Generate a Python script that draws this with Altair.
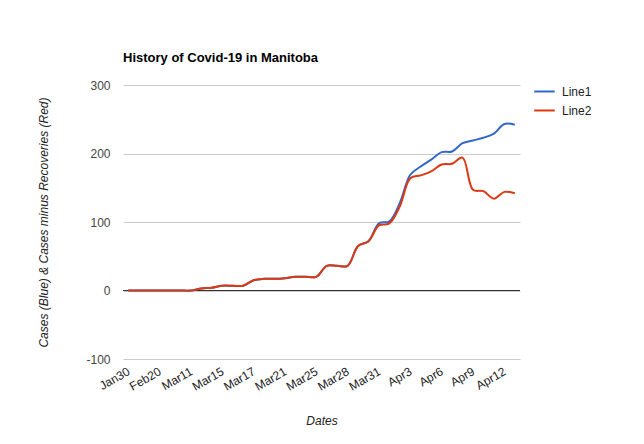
import json
import altair as alt
import pandas as pd

# x positions are point indices; tick labels every 3rd point
tick_labels = ["Jan30", "Feb20", "Mar11", "Mar15", "Mar17", "Mar21", "Mar25",
               "Mar28", "Mar31", "Apr3", "Apr6", "Apr9", "Apr12"]

line1 = [0, 0, 0, 0, 0, 0, 0, 3, 4, 7, 7, 7, 15, 17, 17, 18, 20, 20, 20,
         36, 36, 36, 65, 72, 98, 101, 128, 169, 181, 191, 202, 203, 215,
         219, 223, 229, 243, 242]
line2 = [0, 0, 0, 0, 0, 0, 0, 3, 4, 7, 7, 7, 15, 17, 17, 18, 20, 20, 20,
         36, 36, 36, 65, 72, 95, 98, 123, 164, 168, 174, 184, 185, 194,
         147, 145, 134, 144, 142]

rows = []
for i, v in enumerate(line1):
    rows.append({"idx": i, "value": v, "series": "Line1"})
for i, v in enumerate(line2):
    rows.append({"idx": i, "value": v, "series": "Line2"})
df = pd.DataFrame(rows)

FONT = "Liberation Sans"
W, H = 397, 274
n = len(line1)

label_expr = json.dumps(tick_labels) + "[round(datum.value/3)]"

x_enc = alt.X(
    "idx:Q",
    scale=alt.Scale(domain=[-0.5, n - 0.5], nice=False, zero=False),
    axis=alt.Axis(
        values=list(range(0, 37, 3)),
        labelExpr=label_expr,
        labelAngle=330,
        labelAlign="right",
        labelBaseline="middle",
        labelPadding=11,
        labelFont=FONT,
        labelFontSize=12,
        labelColor="#222",
        labelOverlap=False,
        ticks=False,
        domain=False,
        grid=False,
        title="Dates",
        titleFont=FONT,
        titleFontSize=12,
        titleFontStyle="italic",
        titleFontWeight="normal",
        titleColor="#222",
        titleY=61,
        titleBaseline="middle",
    ),
)

y_enc = alt.Y(
    "value:Q",
    scale=alt.Scale(domain=[-100, 300], nice=False, zero=False),
    axis=alt.Axis(
        values=[-100, -50, 0, 50, 100, 150, 200, 250, 300],
        labelExpr="datum.value % 100 === 0 ? replace(datum.label, '\u2212', '-') : ''",
        labelFont=FONT,
        labelFontSize=12,
        labelColor="#444",
        labelPadding=13,
        ticks=False,
        domain=False,
        grid=True,
        gridColor={"condition": {"test": "datum.value % 100 === 0", "value": "#cccccc"},
                   "value": "#ebebeb"},
        gridWidth=1,
        title="Cases (Blue) & Cases minus Recoveries (Red)",
        titleFont=FONT,
        titleFontSize=12,
        titleFontStyle="italic",
        titleFontWeight="normal",
        titleColor="#222",
        titleX=-80,
        titleY=H / 2,
        titleAngle=270,
        titleAlign="center",
        titleBaseline="middle",
    ),
)

zero = alt.Chart(pd.DataFrame({"z": [0]})).mark_rule(color="#333333", strokeWidth=1).encode(
    y=alt.Y("z:Q", scale=alt.Scale(domain=[-100, 300], nice=False, zero=False))
)

lines = alt.Chart(df).mark_line(interpolate="catmull-rom", strokeWidth=2).encode(
    x=x_enc,
    y=y_enc,
    color=alt.Color(
        "series:N",
        scale=alt.Scale(domain=["Line1", "Line2"], range=["#3366cc", "#dc3912"]),
        legend=alt.Legend(
            title=None,
            orient="none",
            legendX=410,
            legendY=-5,
            symbolType="stroke",
            symbolSize=420,
            symbolStrokeWidth=2,
            labelFont=FONT,
            labelFontSize=12,
            labelColor="#222",
            labelOffset=6,
            rowPadding=1,
        ),
    ),
)

chart = alt.layer(zero, lines).properties(
    width=W,
    height=H,
    background="white",
    padding={"left": 115, "top": 77, "right": 116, "bottom": 77},
    autosize=alt.AutoSizeParams(type="none"),
    title=alt.TitleParams(
        "History of Covid-19 in Manitoba",
        anchor="start",
        frame="group",
        font=FONT,
        fontSize=13,
        fontWeight="bold",
        color="#000",
        offset=4,
        baseline="alphabetic",
    ),
).configure_view(stroke="transparent", strokeWidth=0)

chart.save("out.html", embed_options={"renderer": "svg", "actions": False})
